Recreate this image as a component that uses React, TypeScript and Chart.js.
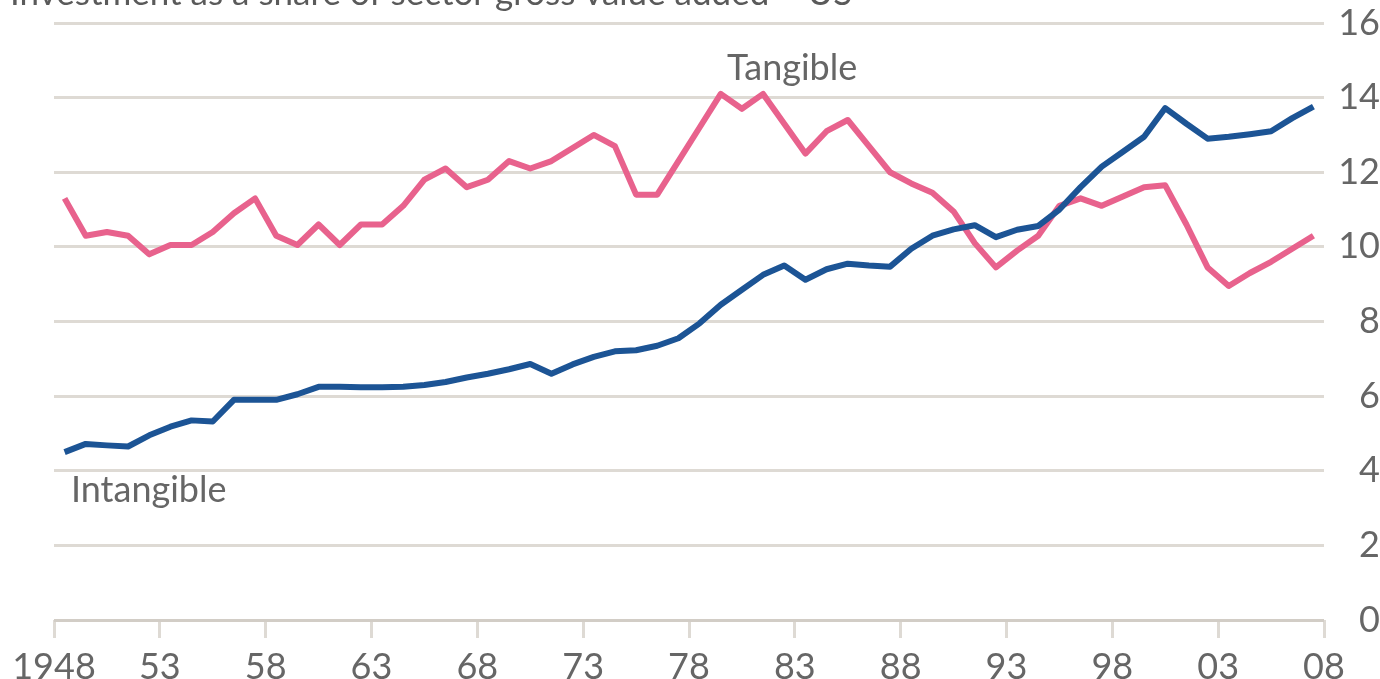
import React, { useEffect, useRef } from 'react';
import { Chart, registerables } from 'chart.js';

Chart.register(...registerables);

const years = [
  1948, 1949, 1950, 1951, 1952, 1953, 1954, 1955, 1956, 1957,
  1958, 1959, 1960, 1961, 1962, 1963, 1964, 1965, 1966, 1967,
  1968, 1969, 1970, 1971, 1972, 1973, 1974, 1975, 1976, 1977,
  1978, 1979, 1980, 1981, 1982, 1983, 1984, 1985, 1986, 1987,
  1988, 1989, 1990, 1991, 1992, 1993, 1994, 1995, 1996, 1997,
  1998, 1999, 2000, 2001, 2002, 2003, 2004, 2005, 2006, 2007,
];

const tangible = [
  11.3, 10.3, 10.4, 10.3, 9.8, 10.05, 10.05, 10.4, 10.9, 11.3,
  10.3, 10.05, 10.6, 10.05, 10.6, 10.6, 11.1, 11.8, 12.1, 11.6,
  11.8, 12.3, 12.1, 12.3, 12.65, 13.0, 12.7, 11.4, 11.4, 12.3,
  13.2, 14.1, 13.7, 14.1, 13.3, 12.5, 13.1, 13.4, 12.7, 12.0,
  11.7, 11.45, 10.95, 10.1, 9.45, 9.9, 10.3, 11.1, 11.3, 11.1,
  11.35, 11.6, 11.65, 10.6, 9.45, 8.95, 9.3, 9.6, 9.95, 10.3,
];

const intangible = [
  4.5, 4.72, 4.68, 4.65, 4.95, 5.18, 5.35, 5.32, 5.9, 5.9,
  5.9, 6.05, 6.25, 6.25, 6.24, 6.24, 6.25, 6.3, 6.38, 6.5,
  6.6, 6.72, 6.86, 6.6, 6.85, 7.05, 7.2, 7.23, 7.35, 7.55,
  7.95, 8.45, 8.85, 9.25, 9.5, 9.12, 9.4, 9.55, 9.5, 9.47,
  9.95, 10.3, 10.47, 10.58, 10.26, 10.46, 10.56, 11.0, 11.6, 12.15,
  12.55, 12.95, 13.72, 13.3, 12.9, 12.95, 13.02, 13.1, 13.45, 13.76,
];

const xTickYears = [1948, 1953, 1958, 1963, 1968, 1973, 1978, 1983, 1988, 1993, 1998, 2003, 2008];
const xTickLabels = ['1948', '53', '58', '63', '68', '73', '78', '83', '88', '93', '98', '03', '08'];
const yTickValues = [0, 2, 4, 6, 8, 10, 12, 14, 16];

const TITLE = 'Investment as a share of sector gross value added \u2013 US';
const MID_YEAR = 0.5;

const FONT = 'Lato';
const TEXT_COLOR = '#666666';
const GRID = '#dedad4';
const BLUE = '#1c5495';
const PINK = '#e8628d';

const textPlugin = {
  id: 'texts',
  afterDraw(chart: any) {
    const { ctx, scales } = chart;
    const x = scales.x;
    const y = scales.y;
    ctx.save();
    ctx.font = `36px ${FONT}`;
    ctx.fillStyle = TEXT_COLOR;
    ctx.textAlign = 'left';
    ctx.textBaseline = 'alphabetic';
    ctx.fillText('Tangible', x.getPixelForValue(1979.8), y.getPixelForValue(14.48));
    ctx.fillText('Intangible', x.getPixelForValue(1948.8), y.getPixelForValue(3.15));
    ctx.font = `35px ${FONT}`;
    ctx.fillStyle = '#5a5a5a';
    ctx.fillText(TITLE, 10, 5);
    ctx.restore();
  },
};

const zeroPad = (s: any) => {
  s.paddingTop = 0;
  s.paddingBottom = 0;
  s.paddingLeft = 0;
  s.paddingRight = 0;
};

export default function App() {
  const ref = useRef<HTMLCanvasElement>(null);

  useEffect(() => {
    if (!ref.current) return;
    const chart = new Chart(ref.current, {
      type: 'line',
      data: {
        datasets: [
          {
            label: 'Intangible',
            data: years.map((yr, i) => ({ x: yr + MID_YEAR, y: intangible[i] })),
            borderColor: BLUE,
            borderWidth: 6,
            pointRadius: 0,
            tension: 0,
            borderJoinStyle: 'round',
            fill: false,
          },
          {
            label: 'Tangible',
            data: years.map((yr, i) => ({ x: yr + MID_YEAR, y: tangible[i] })),
            borderColor: PINK,
            borderWidth: 6,
            pointRadius: 0,
            tension: 0,
            borderJoinStyle: 'round',
            fill: false,
          },
        ],
      },
      options: {
        animation: false,
        responsive: false,
        maintainAspectRatio: false,
        layout: { padding: { left: 54, top: 23, right: 0, bottom: 0 } },
        plugins: {
          legend: { display: false },
          tooltip: { enabled: false },
        },
        scales: {
          x: {
            type: 'linear',
            min: 1948,
            max: 2008,
            afterBuildTicks: (s: any) => {
              s.ticks = xTickYears.map((v) => ({ value: v }));
            },
            afterFit: (s: any) => {
              s.height = 59;
              zeroPad(s);
            },
            ticks: {
              autoSkip: false,
              maxRotation: 0,
              padding: 8,
              color: TEXT_COLOR,
              font: { family: FONT, size: 36 },
              callback: (_v: any, i: number) => xTickLabels[i],
            },
            grid: {
              drawOnChartArea: false,
              drawTicks: true,
              tickLength: 18,
              color: GRID,
              lineWidth: 3,
            },
            border: { display: false },
          },
          y: {
            position: 'right',
            min: 0,
            max: 16,
            afterBuildTicks: (s: any) => {
              s.ticks = yTickValues.map((v) => ({ value: v }));
            },
            afterFit: (s: any) => {
              s.width = 56;
              zeroPad(s);
            },
            ticks: {
              crossAlign: 'far',
              padding: 12,
              color: TEXT_COLOR,
              font: { family: FONT, size: 36 },
            },
            grid: {
              drawTicks: false,
              color: (c: any) => (c.tick && c.tick.value === 0 ? '#d2cdc6' : GRID),
              lineWidth: 3,
            },
            border: { display: false },
          },
        },
      },
      plugins: [textPlugin],
    } as any);
    return () => chart.destroy();
  }, []);

  return (
    <div style={{ position: 'fixed', left: 0, top: 0, width: 1380, height: 679, background: '#ffffff' }}>
      <canvas ref={ref} width={1380} height={679} style={{ display: 'block', width: 1380, height: 679 }} />
    </div>
  );
}
